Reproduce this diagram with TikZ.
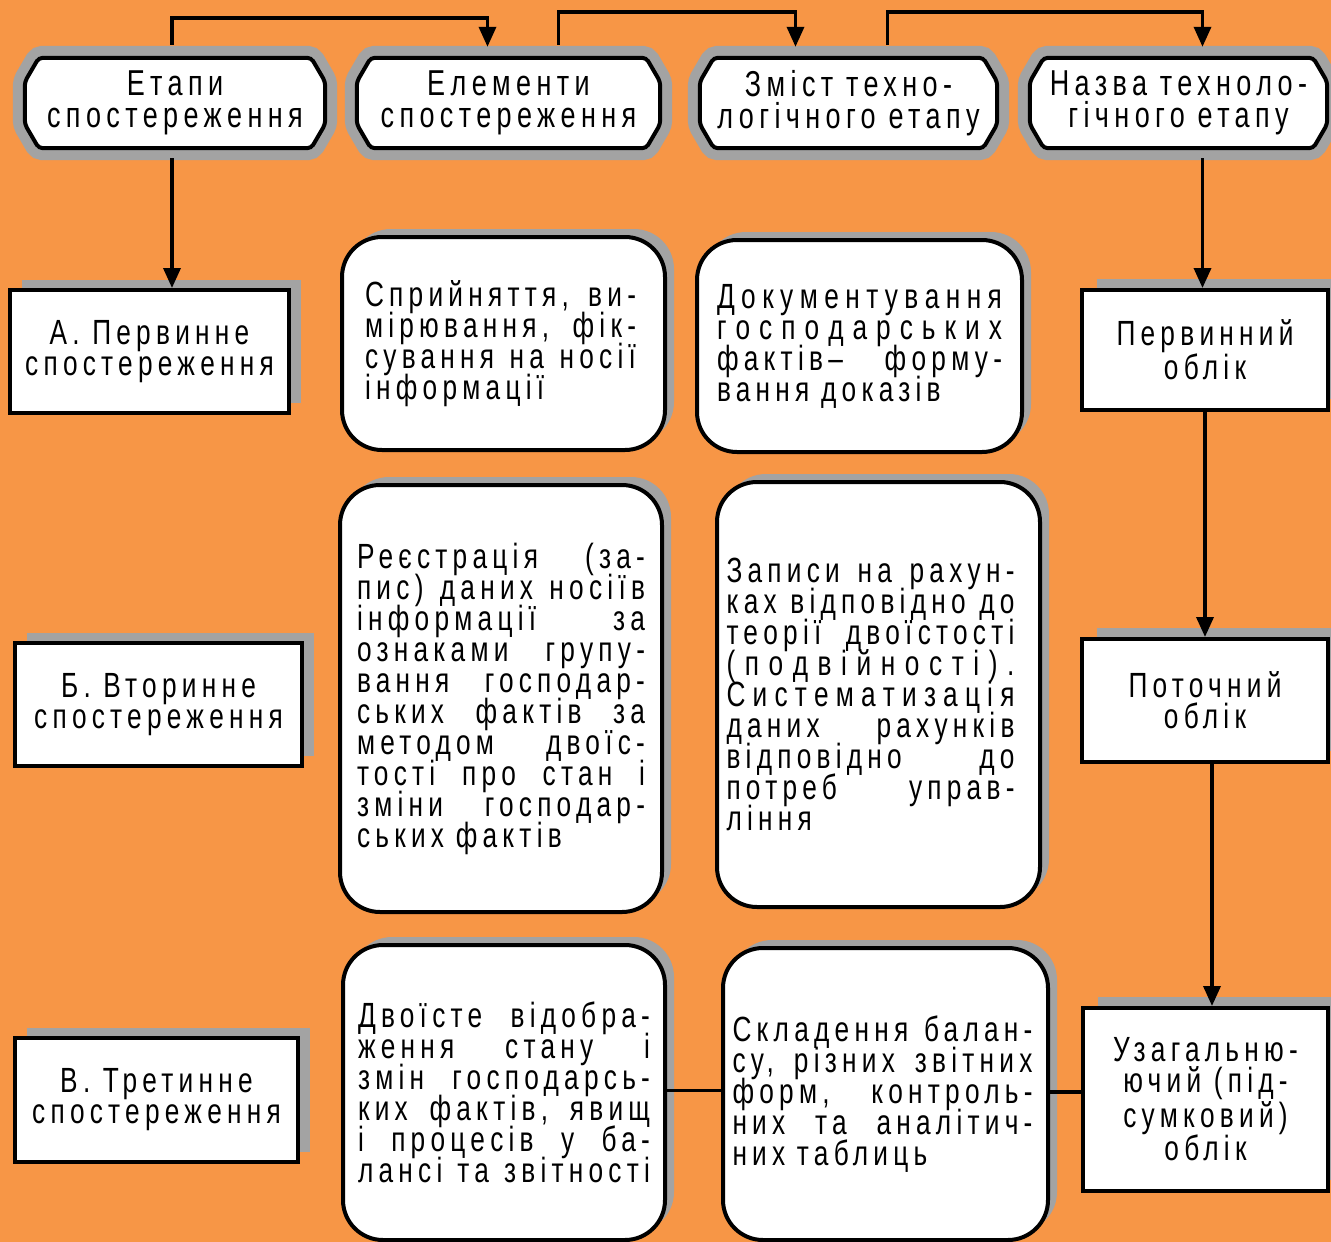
\documentclass[tikz,border=0pt]{standalone}
\usepackage{fontspec}
\setmainfont{Liberation Sans}[FakeStretch=0.75,LetterSpace=15]
\usetikzlibrary{arrows.meta,shadows,calc}
\definecolor{bgorange}{RGB}{247,150,70}
\definecolor{shgray}{RGB}{163,163,163}
\pgfdeclarelayer{background}
\pgfsetlayers{background,main}
\def\jw{288pt}
\def\jk{0pt}
\newcommand\tightlines{\lineskiplimit=-50pt\relax\lineskip=0pt\relax}
\newcommand\jl[1]{\leavevmode\kern\jk\hbox to \jw{#1}\\}
\newcommand\jlast[1]{\leavevmode\kern\jk\hbox to \jw{#1}}
\newcommand\jend[1]{\leavevmode\kern\jk #1}
\makeatletter
\newcommand\spreadw[1]{\leavevmode\kern\jk\hbox to \jw{\@tfor\ch:=#1\do{\ch\hfil}\unskip}}
\makeatother
\newcommand\jls[1]{\spreadw{#1}\\}
\begin{document}
\begin{tikzpicture}[x=1pt,y=-1pt,
  bodyfont/.style={font=\fontsize{35}{31}\selectfont},
  boxfont/.style={font=\fontsize{35}{31}\selectfont},
  hdrfont/.style={font=\fontsize{36}{32}\selectfont},
  hdr/.style={hdrfont, inner sep=0pt, minimum height=90pt, align=center},
  rbox/.style={bodyfont, execute at begin node=\tightlines, draw=black, line width=4pt, fill=white, rounded corners=40pt,
    drop shadow={shadow xshift=9pt, shadow yshift=8pt, fill=shgray, opacity=1},
    inner sep=0pt, align=left},
  lbox/.style={boxfont, draw=black, line width=4pt, fill=white,
    drop shadow={shadow xshift=12pt, shadow yshift=10pt, fill=shgray, opacity=1},
    inner sep=0pt, align=center},
  pbox/.style={boxfont, draw=black, line width=4pt, fill=white,
    drop shadow={shadow xshift=15pt, shadow yshift=11pt, fill=shgray, opacity=1},
    inner sep=0pt, align=center},
  arr/.style={line width=3.5pt, -{Triangle[length=20pt,width=17pt]}},
  conn/.style={line width=3.5pt},
  hgray/.style={line width=24pt, draw=shgray, rounded corners=4pt},
  hline/.style={line width=4pt, draw=black, fill=white, rounded corners=4pt}
]
\begin{pgfonlayer}{background}
\fill[bgorange] (0,0) rectangle (1331,1242);
\end{pgfonlayer}
\useasboundingbox (0,0) rectangle (1331,1242);
\clip (0,0) rectangle (1331,1242);

% header nodes
\node[hdr, minimum width=300pt] (h1) at (175,103) {Етапи\\спостереження};
\node[hdr, minimum width=303pt] (h2) at (508.5,103) {Елементи\\спостереження};
\node[hdr, minimum width=297pt] (h3) at (848.5,103) {Зміст техно-\\логічного етапу};
\node[hdr, minimum width=297pt] (h4) at (1178.5,103) {Назва техноло-\\гічного етапу};

\begin{pgfonlayer}{background}
\foreach \n in {h1,h2,h3,h4}{
  \path[hgray] ([xshift=14pt]\n.north west) -- ([xshift=-14pt]\n.north east)
    -- ([yshift=-24pt]\n.north east) -- ([yshift=24pt]\n.south east)
    -- ([xshift=-14pt]\n.south east) -- ([xshift=14pt]\n.south west)
    -- ([yshift=24pt]\n.south west) -- ([yshift=-24pt]\n.north west) -- cycle;
  \path[hline] ([xshift=14pt]\n.north west) -- ([xshift=-14pt]\n.north east)
    -- ([yshift=-24pt]\n.north east) -- ([yshift=24pt]\n.south east)
    -- ([xshift=-14pt]\n.south east) -- ([xshift=14pt]\n.south west)
    -- ([yshift=24pt]\n.south west) -- ([yshift=-24pt]\n.north west) -- cycle;
}
\end{pgfonlayer}

% left column
\node[lbox, minimum width=279pt, minimum height=123pt] (A) at (149.5,351.5) {А. Первинне\\спостереження};
\node[lbox, minimum width=287pt, minimum height=123pt] (B) at (158.5,704.5) {Б. Вторинне\\спостереження};
\node[lbox, minimum width=283pt, minimum height=124pt] (C) at (156.5,1100) {В. Третинне\\спостереження};

% right column
\node[pbox, minimum width=246pt, minimum height=120pt] (p1) at (1205,350) {Первинний\\облік};
\node[pbox, minimum width=246pt, minimum height=123pt] (p2) at (1205,700.5) {Поточний\\облік};
\node[pbox, minimum width=245pt, minimum height=183pt] (p3) at (1205.5,1099.5) {Узагальню-\\ючий (під-\\сумковий)\\облік};

% middle rounded boxes
\node[rbox, minimum width=323pt, minimum height=213pt, text width=271pt] (r1a) at (503.5,343.5)
 {\def\jw{271pt}\def\jk{-3pt}\jl{Сприйняття, \hfill ви-}\jl{мірювання, \hfill фік-}\jl{сування \hfill на \hfill носії}\jend{інформації}};
\node[rbox, minimum width=325pt, minimum height=212pt, text width=285pt] (r1b) at (859.5,346)
 {\def\jw{285pt}\jls{Документування}\jls{господарських}\jl{фактів– \hfill форму-}\jend{вання доказів}};
\node[rbox, minimum width=322pt, minimum height=427pt, text width=288pt] (r2a) at (501,698.5)
 {\def\jw{288pt}\jl{Реєстрація \hfill (за-}\jl{пис) \hfill даних \hfill носіїв}\jl{інформації \hfill за}\jl{ознаками \hfill групу-}\jl{вання \hfill господар-}\jl{ських \hfill фактів \hfill за}\jl{методом \hfill двоїс-}\jl{тості \hfill про \hfill стан \hfill і}\jl{зміни \hfill господар-}\jend{ських фактів}};
\node[rbox, minimum width=323pt, minimum height=425pt, text width=288pt] (r2b) at (878.5,694.5)
 {\def\jw{288pt}\def\jk{-8pt}\jl{Записи \hfill на \hfill рахун-}\jl{ках \hfill відповідно \hfill до}\jl{теорії \hfill двоїстості}\jls{(подвійності).}\jls{Систематизація}\jl{даних \hfill рахунків}\jl{відповідно \hfill до}\jl{потреб \hfill управ-}\jend{ління}};
\node[rbox, minimum width=322pt, minimum height=295pt, text width=292pt] (r3a) at (504,1092.5)
 {\def\jw{292pt}\jl{Двоїсте \hfill відобра-}\jl{ження \hfill стану \hfill і}\jl{змін \hfill господарсь-}\jl{ких \hfill фактів, \hfill явищ}\jl{і \hfill процесів \hfill у \hfill ба-}\jlast{лансі \hfill та \hfill звітності}};
\node[rbox, minimum width=325pt, minimum height=292pt, text width=300pt] (r3b) at (885.5,1094)
 {\def\jw{300pt}\def\jk{-3pt}\jl{Складення \hfill балан-}\jl{су, \hfill різних \hfill звітних}\jl{форм, \hfill контроль-}\jl{них \hfill та \hfill аналітич-}\jend{них таблиць}};

% top connectors
\draw[arr] ([xshift=-3pt,yshift=13pt]h1.north) -- ++(0,-27) -| ([xshift=-21pt,yshift=11pt]h2.north);
\draw[arr] ([xshift=50pt,yshift=13pt]h2.north) -- ++(0,-33) -| ([xshift=-53pt,yshift=11pt]h3.north);
\draw[arr] ([xshift=39pt,yshift=13pt]h3.north) -- ++(0,-33) -| ([xshift=24pt,yshift=11pt]h4.north);

% vertical arrows
\draw[arr] ([xshift=-3pt,yshift=-10pt]h1.south) -- ([xshift=-3pt]h1.south |- A.north);
\draw[arr] ([xshift=24pt,yshift=-10pt]h4.south) -- ([xshift=24pt]h4.south |- p1.north);
\draw[arr] (p1.south) -- (p1.south |- p2.north);
\draw[arr] ([xshift=7pt]p2.south) -- ([xshift=7pt]p2.south |- p3.north);

% bottom row links
\draw[conn] ([yshift=2pt]r3a.east) -- ([yshift=2pt]r3a.east -| r3b.west);
\draw[conn] ([yshift=2pt]r3b.east) -- ([yshift=2pt]r3b.east -| p3.west);
\end{tikzpicture}
\end{document}
